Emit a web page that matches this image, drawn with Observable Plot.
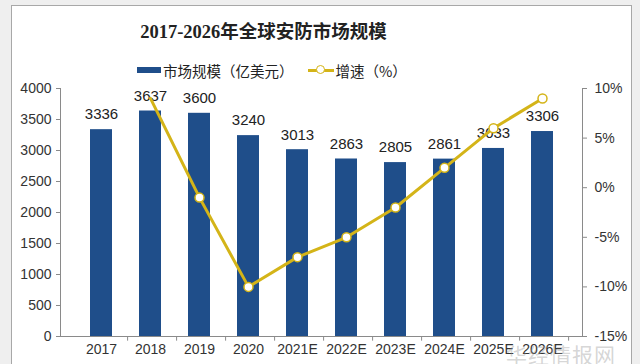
<!DOCTYPE html>
<html>
<head>
<meta charset="utf-8">
<script src="https://cdn.jsdelivr.net/npm/d3@7"></script>
<script src="https://cdn.jsdelivr.net/npm/@observablehq/plot@0.6"></script>
<style>
  html, body { margin: 0; padding: 0; background: #efefef; }
  #wrap { position: relative; width: 640px; height: 364px; overflow: hidden; background: #efefef; }
  #frame { position: absolute; left: 11px; top: 5px; width: 621px; height: 380px; background: #fff; border: 1px solid #a8a8a8; box-sizing: border-box; }
  #title { position: absolute; left: 0; top: 18px; width: 527px; text-align: center; font-family: "Liberation Serif", "Noto Sans CJK SC", serif; font-weight: bold; font-size: 18.5px; color: #222; line-height: 28px; }
  #legend { position: absolute; left: 137px; top: 58px; font-family: "Noto Sans CJK SC", sans-serif; font-size: 14.5px; color: #222; display: flex; align-items: center; height: 24px; }
  .sw-bar { display: inline-block; width: 24px; height: 6px; background: #1f4e8a; margin-right: 2px; }
  .sw-line { display: inline-block; position: relative; width: 26px; height: 3px; background: #d4b418; margin: 0 2px 0 14px; }
  .sw-line::after { content: ""; position: absolute; left: 8px; top: -4px; width: 9px; height: 9px; border-radius: 50%; background: #fff; border: 1.5px solid #d4b418; box-sizing: border-box; }
  #chart { position: absolute; left: 0; top: 80px; }
  #wm { position: absolute; left: 506px; top: 339px; font-family: "Noto Sans CJK SC", sans-serif; font-size: 21px; color: rgba(150,150,150,0.4); letter-spacing: 1px; }
</style>
</head>
<body>
<div id="wrap">
  <div id="frame"></div>
  <div id="title">2017-2026年全球安防市场规模</div>
  <div id="legend"><span class="sw-bar"></span><span>市场规模（亿美元）</span><span class="sw-line"></span><span>增速（%）</span></div>
  <div id="chart"></div>
  <div id="wm">华经情报网</div>
</div>
<script>
const years = ["2017","2018","2019","2020","2021E","2022E","2023E","2024E","2025E","2026E"];
const marketSize = [3336, 3637, 3600, 3240, 3013, 2863, 2805, 2861, 3033, 3306];
const growthRate = [null, 9.0, -1.0, -10.0, -7.0, -5.0, -2.0, 2.0, 6.0, 9.0];
const leftTicks = [0, 500, 1000, 1500, 2000, 2500, 3000, 3500, 4000];
const rightTicks = [-15, -10, -5, 0, 5, 10];

const data = years.map((year, i) => ({year, size: marketSize[i], growth: growthRate[i]}));
// map right axis (-15%..10%) onto left axis (0..4000)
const toLeft = g => (g + 15) / 25 * 4000;

const W = 640, H = 284, mL = 60, mR = 58;
const step = (W - mL - mR) / years.length;
const blue = "#1f4e8a", gold = "#d4b418", axisColor = "#8a8a8a";

const lineData = data.filter(d => d.growth != null);
const dotData = lineData.slice(1);

const chart = Plot.plot({
  width: W, height: H,
  marginTop: 8, marginBottom: 28, marginLeft: mL, marginRight: mR,
  style: {fontFamily: "'Liberation Sans', Arial, sans-serif", fontSize: "14px", color: "#333", background: "transparent"},
  x: {domain: years, padding: 0.56},
  y: {domain: [0, 4000]},
  marks: [
    Plot.barY(data, {x: "year", y: "size", fill: blue}),
    Plot.text(data, {x: "year", y: "size", text: d => String(d.size), dy: -15, fontSize: 15, fill: "#222"}),
    Plot.line(lineData, {x: "year", y: d => toLeft(d.growth), stroke: gold, strokeWidth: 3}),
    Plot.dot(dotData, {x: "year", y: d => toLeft(d.growth), r: 4.5, fill: "#fff", stroke: gold, strokeWidth: 1.5}),
    Plot.frame({anchor: "left", stroke: axisColor}),
    Plot.frame({anchor: "right", stroke: axisColor}),
    Plot.frame({anchor: "bottom", stroke: axisColor}),
    Plot.ruleX(years, {x: d => d, dx: step / 2, y1: 0, y2: -75, stroke: axisColor}),
    Plot.axisY({ticks: leftTicks, tickFormat: d => String(d), tickSize: 4, tickPadding: 5, label: null, stroke: axisColor, fill: "#333"}),
    Plot.axisY({anchor: "right", ticks: rightTicks.map(toLeft), tickFormat: v => Math.round(v / 4000 * 25 - 15) + "%", tickSize: 4, tickPadding: 8, label: null, stroke: axisColor, fill: "#333"}),
    Plot.axisX({tickSize: 0, tickPadding: 8, label: null, fill: "#333"})
  ]
});
document.getElementById("chart").appendChild(chart);
</script>
</body>
</html>
